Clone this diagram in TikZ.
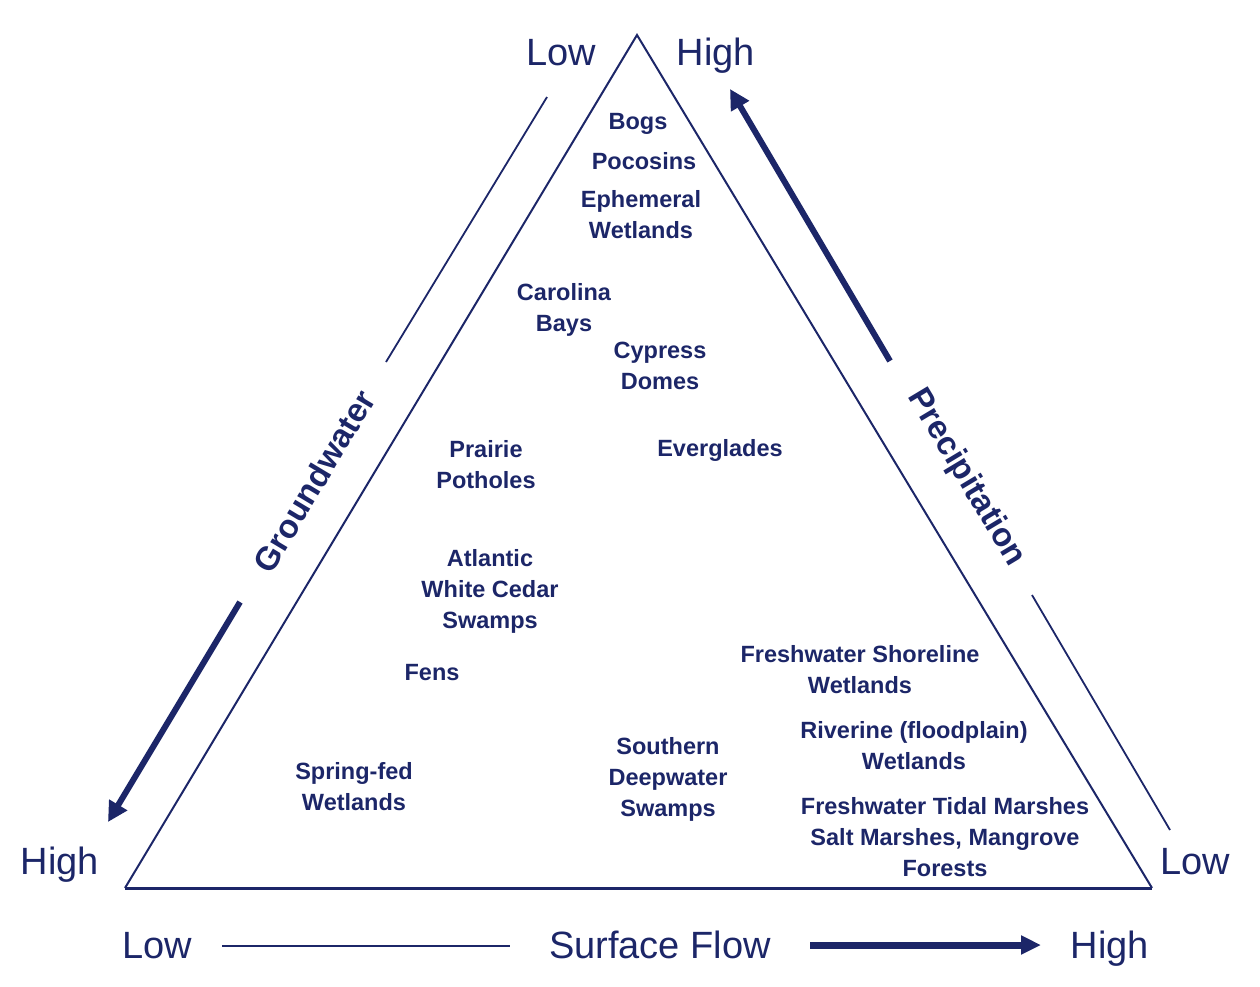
\documentclass[tikz,border=0pt]{standalone}
\usepackage{fontspec}
\setmainfont{Liberation Sans}
\usetikzlibrary{arrows.meta}
\definecolor{navy}{RGB}{28,38,104}
\tikzset{
  lbl/.style={text=navy, font=\bfseries\fontsize{23.5}{31}\selectfont, align=center, inner sep=0pt},
  big/.style={text=navy, font=\fontsize{38}{44}\selectfont, anchor=base, inner sep=0pt},
  side/.style={text=navy, font=\bfseries\fontsize{33}{38}\selectfont, inner sep=0pt},
  thinline/.style={draw=navy, line width=1.8pt},
  thickarrow/.style={draw=navy, line width=6pt, -{Triangle[length=20pt,width=20pt]}},
}
\begin{document}
\begin{tikzpicture}[x=1pt,y=-1pt]
\useasboundingbox (0,0) rectangle (1260,986);
% triangle
\coordinate (A) at (637,35);
\coordinate (L) at (125,888);
\coordinate (R) at (1152,888);
\draw[navy, line width=2pt, line join=miter] (L) -- (A) -- (R);
\draw[navy, line width=3pt] (L) -- (R);

% corner labels
\node[big] (tlow) at (561,65) {Low};
\node[big] (thigh) at (716,65) {High};
\node[big] (lhigh) at (60,874) {High};
\node[big] (rlow) at (1195,874) {Low};
\node[big] (blow) at (157,958) {Low};
\node[big] (sflow) at (660,958) {Surface Flow};
\node[big] (bhigh) at (1110,958) {High};

% groundwater side
\coordinate (g1) at (547,97);
\coordinate (g2) at (386,362);
\draw[thinline] (g1) -- (g2);
\node[side, rotate=59] (gw) at (314,481) {Groundwater};
\coordinate (ga) at (240,602);
\coordinate (gb) at (108,822);
\draw[thickarrow] (ga) -- (gb);

% precipitation side
\coordinate (pa) at (890,361);
\coordinate (pb) at (730,89);
\draw[thickarrow] (pa) -- (pb);
\node[side, rotate=-59] (pr) at (966,478) {Precipitation};
\coordinate (p1) at (1032,595);
\coordinate (p2) at (1170,830);
\draw[thinline] (p1) -- (p2);

% surface flow
\coordinate (s1) at (222,946);
\coordinate (s2) at (510,946);
\draw[navy, line width=2.5pt] (s1) -- (s2);
\coordinate (s3) at (810,945);
\coordinate (s4) at (1041,945);
\draw[thickarrow, line width=7pt, -{Triangle[length=20pt,width=18pt]}] (s3) -- (s4);

% wetland labels
\node[lbl] (bogs) at (638,124) {Bogs};
\node[lbl] (poc) at (644,161) {Pocosins};
\node[lbl] (eph) at (641,215) {Ephemeral\\Wetlands};
\node[lbl] (car) at (564,310) {Carolina\\Bays};
\node[lbl] (cyp) at (660,366) {Cypress\\Domes};
\node[lbl] (pra) at (486,465) {Prairie\\Potholes};
\node[lbl] (evg) at (720,450) {Everglades};
\node[lbl] (atl) at (490,591) {Atlantic\\White Cedar\\Swamps};
\node[lbl] (fen) at (432,673) {Fens};
\node[lbl] (fsw) at (860,670) {Freshwater Shoreline\\Wetlands};
\node[lbl] (riv) at (914,746) {Riverine (floodplain)\\Wetlands};
\node[lbl] (spr) at (354,787) {Spring-fed\\Wetlands};
\node[lbl] (sou) at (668,779) {Southern\\Deepwater\\Swamps};
\node[lbl] (tid) at (945,837) {Freshwater Tidal Marshes\\Salt Marshes, Mangrove\\Forests};
\end{tikzpicture}
\end{document}
